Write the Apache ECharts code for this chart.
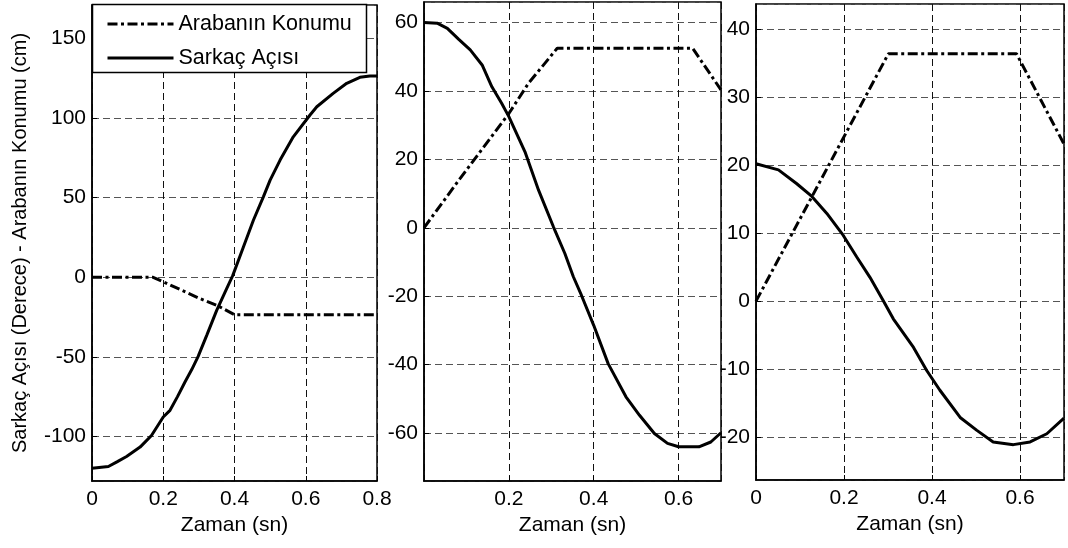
<!DOCTYPE html>
<html>
<head>
<meta charset="utf-8">
<script src="https://cdn.jsdelivr.net/npm/echarts@6/dist/echarts.min.js"></script>
<style>
html,body{margin:0;padding:0;background:#fff;}
#c{width:1068px;height:548px;}
</style>
</head>
<body>
<div id="c"></div>
<script>
// ---- Data ----
var seriesNames = ['Arabanın Konumu', 'Sarkaç Açısı'];
var xTitle = 'Zaman (sn)';
var yTitle = 'Sarkaç Açısı (Derece) - Arabanın Konumu (cm)';

// Panel 1
var p1PendT = [0, 0.02, 0.046, 0.07, 0.097, 0.135, 0.167, 0.2, 0.219, 0.24, 0.261, 0.28, 0.298, 0.322, 0.35, 0.378, 0.395, 0.425, 0.453, 0.481, 0.5, 0.528, 0.565, 0.612, 0.631, 0.677, 0.715, 0.752, 0.78, 0.8];
var p1PendV = [-120, -119.5, -118.9, -116, -112.6, -106.7, -99.4, -87.8, -83.6, -75, -65.8, -58, -49.7, -36.5, -20.8, -7.1, 1, 19, 35.8, 50.5, 61, 73.6, 88.2, 101.9, 107.1, 115.5, 121.8, 125.6, 126.4, 126.4];
var p1CartT = [0, 0.17, 0.2, 0.25, 0.303, 0.35, 0.4, 0.8];
var p1CartV = [0, 0, -2.9, -8, -13.4, -17.6, -23.5, -23.5];

// Panel 2
var p2PendT = [0, 0.031, 0.055, 0.082, 0.109, 0.137, 0.16, 0.183, 0.2, 0.238, 0.27, 0.305, 0.332, 0.352, 0.371, 0.4, 0.434, 0.476, 0.508, 0.543, 0.574, 0.6, 0.648, 0.676, 0.7];
var p2PendV = [60, 59.8, 58.3, 55.1, 52, 47.6, 41.2, 36.4, 32.5, 22.2, 11, 0.3, -7.5, -14.3, -19.7, -28.5, -39.7, -49.4, -54.8, -60.1, -63, -64, -64, -62.6, -59.9];
var p2CartT = [0, 0.082, 0.2, 0.246, 0.314, 0.633, 0.7];
var p2CartV = [0, 13.9, 33.4, 42.2, 52.5, 52.5, 40.3];

// Panel 3
var p3PendT = [0, 0.051, 0.092, 0.127, 0.161, 0.198, 0.229, 0.259, 0.289, 0.312, 0.358, 0.388, 0.418, 0.464, 0.502, 0.539, 0.585, 0.623, 0.661, 0.7];
var p3PendV = [20.2, 19.3, 17.3, 15.4, 12.9, 9.7, 6.5, 3.5, 0.1, -2.6, -6.8, -10.2, -13.1, -17.1, -19, -20.7, -21.1, -20.7, -19.5, -17.2];
var p3CartT = [0, 0.301, 0.592, 0.7];
var p3CartV = [0, 36.4, 36.4, 23.1];

// Axis ranges
var xRanges = [[0, 0.8], [0, 0.7], [0, 0.7]];
var yRanges = [[-128, 171], [-74, 66], [-26.3, 43.7]];
var ySplits = [6, 7, 7];

// ---- Build chart ----
function pairs(t, v) { return t.map(function (x, i) { return [x, v[i]]; }); }

var FONT = 'Liberation Sans, Arial, sans-serif';
var FS = 21;
var grids = [
  {left: 92, right: 691, top: 5, bottom: 67},
  {left: 424, right: 347, top: 2, bottom: 67},
  {left: 756, right: 4, top: 4, bottom: 68}
];

var xAxes = [], yAxes = [];
for (var i = 0; i < 3; i++) {
  xAxes.push({
    type: 'value', gridIndex: i, min: xRanges[i][0], max: xRanges[i][1], interval: 0.2,
    name: xTitle, nameLocation: 'middle', nameGap: 32,
    nameTextStyle: {fontFamily: FONT, fontSize: FS, color: '#000'},
    axisLine: {show: true, onZero: false, lineStyle: {color: '#000', width: 1.5}},
    axisTick: {show: true, inside: true, length: 5, lineStyle: {color: '#000'}},
    axisLabel: {fontFamily: FONT, fontSize: FS, color: '#000', margin: 8,
      showMinLabel: i !== 1, showMaxLabel: i === 0,
      formatter: function (v) { return v === 0 ? '0' : String(+v.toFixed(1)); }},
    splitLine: {show: true, lineStyle: {color: '#111', width: 1, type: [7, 4]}}
  });
  var ya = {
    type: 'value', gridIndex: i, min: yRanges[i][0], max: yRanges[i][1], splitNumber: ySplits[i],
    axisLine: {show: true, onZero: false, lineStyle: {color: '#000', width: 1.5}},
    axisTick: {show: true, inside: true, length: 5, lineStyle: {color: '#000'}},
    axisLabel: {fontFamily: FONT, fontSize: FS, color: '#000', margin: 6, showMinLabel: false, showMaxLabel: false},
    splitLine: {show: true, lineStyle: {color: '#555', width: 1, type: [7, 4]}}
  };
  if (i === 0) {
    ya.name = yTitle; ya.nameLocation = 'middle'; ya.nameGap = 62;
    ya.nameTextStyle = {fontFamily: FONT, fontSize: 20, color: '#000'};
  }
  yAxes.push(ya);
}

var dashDot = [10, 3.5, 3, 3.5];
function lineSeries(name, idx, data, dashed) {
  return {
    name: name, type: 'line', xAxisIndex: idx, yAxisIndex: idx, data: data,
    symbol: 'none', showSymbol: false, smooth: false, animation: false,
    lineStyle: {color: '#000', width: 3, type: dashed ? dashDot : 'solid'},
    itemStyle: {color: '#000'}, z: 3
  };
}

var series = [
  lineSeries(seriesNames[0], 0, pairs(p1CartT, p1CartV), true),
  lineSeries(seriesNames[1], 0, pairs(p1PendT, p1PendV), false),
  lineSeries(seriesNames[0], 1, pairs(p2CartT, p2CartV), true),
  lineSeries(seriesNames[1], 1, pairs(p2PendT, p2PendV), false),
  lineSeries(seriesNames[0], 2, pairs(p3CartT, p3CartV), true),
  lineSeries(seriesNames[1], 2, pairs(p3PendT, p3PendV), false)
];

var chart = echarts.init(document.getElementById('c'), null, {renderer: 'canvas'});
chart.setOption({
  backgroundColor: '#fff',
  animation: false,
  grid: grids.map(function (g) {
    return Object.assign({show: true, borderColor: '#000', borderWidth: 1.5, backgroundColor: 'transparent'}, g);
  }),
  xAxis: xAxes,
  yAxis: yAxes,
  series: series,
  graphic: [{
    type: 'rect', z: 10, shape: {x: 92.5, y: 4.5, width: 274, height: 68},
    style: {fill: '#fff', stroke: '#000', lineWidth: 1.5}
  }],
  legend: {
    data: seriesNames, orient: 'vertical', left: 106, top: 13, padding: 0,
    itemWidth: 66, itemHeight: 14, itemGap: 12, z: 20,
    itemStyle: {opacity: 0, color: 'rgba(0,0,0,0)', borderWidth: 0},
    lineStyle: {width: 3, color: '#000'},
    textStyle: {fontFamily: FONT, fontSize: 21.5, color: '#000'}
  }
});
</script>
</body>
</html>
